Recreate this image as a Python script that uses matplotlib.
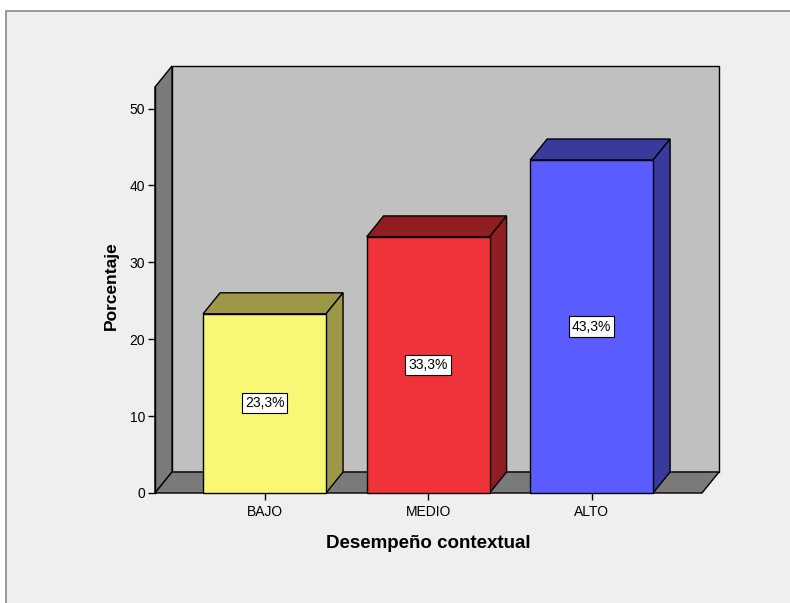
import numpy as np
import matplotlib
matplotlib.use("Agg")
import matplotlib.pyplot as plt
from matplotlib.patches import Polygon, Rectangle

categorias = ["BAJO", "MEDIO", "ALTO"]
porcentajes = [23.3, 33.3, 43.3]
y_ticks = [0, 10, 20, 30, 40, 50]

color_frente = ["#f8f876", "#f0323a", "#5b5cff"]
color_lado = ["#9c9848", "#8e1e22", "#383a9c"]

plt.rcParams['font.family'] = ['Liberation Sans', 'DejaVu Sans']

W, H = 790, 603
fig = plt.figure(figsize=(W / 100, H / 100), dpi=100, facecolor="white")

# marco gris del visor
fig.patches.append(Rectangle((6 / W, -0.05), 1.1, 1.05 - 11 / H, transform=fig.transFigure,
                             facecolor="#efefef", edgecolor="#8a8a8a", lw=1.2, zorder=-5))

# plano frontal del grafico (en pixeles)
left, right, bottom, top = 155, 702, 493, 87
ax = fig.add_axes([left / W, 1 - bottom / H, (right - left) / W, (bottom - top) / H])
ax.set_facecolor("none")

x = np.arange(len(categorias))
xmin, xmax = -0.67, 2.675
ymax = (bottom - top) / ((bottom - 108.5) / 50)
ax.set_xlim(xmin, xmax)
ax.set_ylim(0, ymax)

# profundidad 3D en pixeles -> unidades de datos
DEPTH_PX = np.array([17, 21])
p0 = ax.transData.transform((0, 0))
dx, dy = ax.transData.inverted().transform(p0 + DEPTH_PX)

def cara(pts, fc, z):
    ax.add_patch(Polygon(pts, closed=True, facecolor=fc, edgecolor="black",
                         lw=1, clip_on=False, zorder=z, joinstyle="miter"))

# paredes y piso
cara([(xmin + dx, dy), (xmax + dx, dy), (xmax + dx, ymax + dy), (xmin + dx, ymax + dy)], "#c0c0c0", 1)
cara([(xmin, 0), (xmin + dx, dy), (xmin + dx, ymax + dy), (xmin, ymax)], "#7a7a7a", 1)
cara([(xmin, 0), (xmax, 0), (xmax + dx, dy), (xmin + dx, dy)], "#7a7a7a", 1)

w = 0.752
for xi, v, fc, sc in zip(x, porcentajes, color_frente, color_lado):
    x0, x1 = xi - w / 2, xi + w / 2
    cara([(x0, v), (x1, v), (x1 + dx, v + dy), (x0 + dx, v + dy)], sc, 2)
    cara([(x1, 0), (x1 + dx, dy), (x1 + dx, v + dy), (x1, v)], sc, 2)
    cara([(x0, 0), (x1, 0), (x1, v), (x0, v)], fc, 3)
    etiqueta = f"{v:.1f}".replace(".", ",") + "%"
    ax.text(xi, v / 2, etiqueta, ha="center", va="center", fontsize=10, zorder=5,
            bbox=dict(boxstyle="square,pad=0.22", facecolor="white", edgecolor="black", lw=0.8))

for s in ax.spines.values():
    s.set_visible(False)
ax.plot([xmin, xmin], [0, ymax], color="black", lw=1, clip_on=False, zorder=4)

ax.set_xticks(x)
ax.set_xticklabels(categorias)
ax.set_yticks(y_ticks)
ax.tick_params(axis="both", direction="out", length=5, width=1, labelsize=10, pad=2)
ax.tick_params(axis="x", pad=4)

ax.set_ylabel("Porcentaje", fontsize=12.5, fontweight="bold", labelpad=8)
ax.yaxis.label.set_y(0.51)
ax.set_xlabel("Desempeño contextual", fontsize=13.5, fontweight="bold", labelpad=11)

fig.savefig("out.png", dpi=100, facecolor="white")
